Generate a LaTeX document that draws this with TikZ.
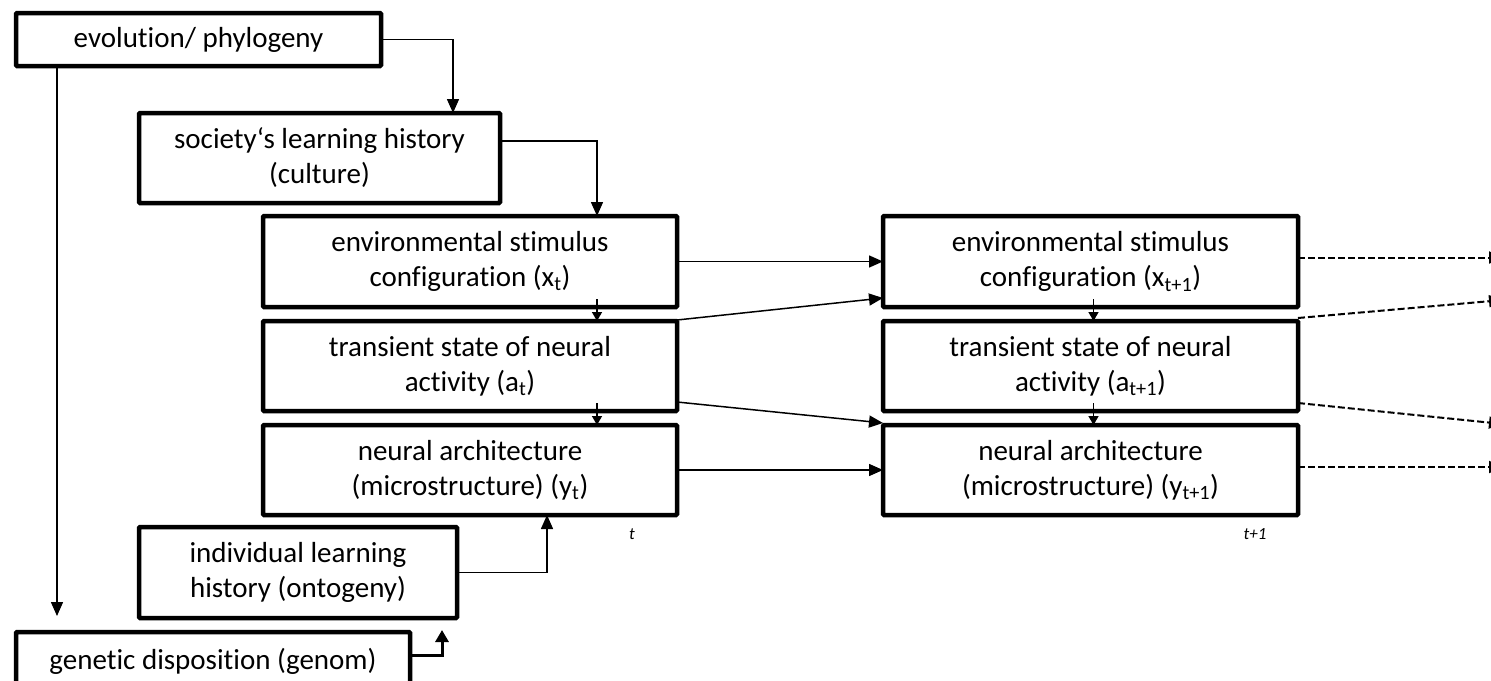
\documentclass[tikz,border=0pt]{standalone}
\usepackage{fontspec}
\setmainfont{Carlito}[Ligatures=NoCommon]
\usetikzlibrary{arrows.meta}
\begin{document}
\begin{tikzpicture}[x=1pt,y=-1pt,
  box/.style={draw, line width=4.5pt, rounded corners=1pt, align=center,
    inner sep=0pt, outer sep=0pt, font=\fontsize{29}{35}\selectfont},
  arr/.style={line width=1.5pt, -{Triangle[length=14pt,width=12pt]}},
  small/.style={line width=1.5pt, -{Triangle[length=9pt,width=10pt]}},
  thick arr/.style={line width=3pt, -{Triangle[length=12pt,width=13pt]}},
  dash arr/.style={line width=2pt, dash pattern=on 7pt off 3pt,
    -{Triangle[length=14pt,width=12pt]}},
  tlabel/.style={font=\fontsize{17}{20}\selectfont\itshape, inner sep=0pt}]
\useasboundingbox (0,0) rectangle (1491,680);

% upstream influences
\node[box, minimum width=365pt, minimum height=53pt] (evo) at (198.5,39.5) {evolution/ phylogeny};
\node[box, minimum width=361pt, minimum height=90pt] (soc) at (319.5,158) {society‘s learning history\\(culture)};

% time step t
\node[box, minimum width=414pt, minimum height=91pt] (env1) at (470,261.5) {environmental stimulus\\configuration (x\textsubscript{t})};
\node[box, minimum width=414pt, minimum height=90pt] (trs1) at (470,366) {transient state of neural\\activity (a\textsubscript{t})};
\node[box, minimum width=414pt, minimum height=90pt] (neu1) at (470,470) {neural architecture\\(microstructure) (y\textsubscript{t})};

% time step t+1
\node[box, minimum width=415pt, minimum height=91pt] (env2) at (1090.5,261.5) {environmental stimulus\\configuration (x\textsubscript{t+1})};
\node[box, minimum width=415pt, minimum height=90pt] (trs2) at (1090.5,366) {transient state of neural\\activity (a\textsubscript{t+1})};
\node[box, minimum width=415pt, minimum height=90pt] (neu2) at (1090.5,470) {neural architecture\\(microstructure) (y\textsubscript{t+1})};

% individual factors
\node[box, minimum width=318pt, minimum height=91pt] (ind) at (298,572.5) {individual learning\\history (ontogeny)};
\node[box, minimum width=394pt, minimum height=58pt] (gen) at (213,661) {genetic disposition (genom)};

\node[tlabel] (lt) at (632,534) {t};
\node[tlabel] (lt1) at (1255,534) {t+1};

% loose ends of the next step
\coordinate (n1) at (1503,257.5);
\coordinate (n2) at (1503,300);
\coordinate (n3) at (1503,424);
\coordinate (n4) at (1503,467);

% top-down cascade
\draw[arr] (evo.east) -| ([xshift=133.5pt]soc.north);
\draw[arr] ([yshift=17pt]soc.east) -| ([xshift=127pt]env1.north);
\draw[arr] ([xshift=-141.5pt]evo.south) -- ([xshift=41pt,yshift=16pt]gen.north west);

% within each step
\draw[small] ([xshift=127pt,yshift=8pt]env1.south) -- ([xshift=127pt]trs1.north);
\draw[small] ([xshift=127pt,yshift=8pt]trs1.south) -- ([xshift=127pt]neu1.north);
\draw[small] ([xshift=3pt,yshift=8pt]env2.south) -- ([xshift=3pt]trs2.north);
\draw[small] ([xshift=3pt,yshift=8pt]trs2.south) -- ([xshift=3pt]neu2.north);

% from t to t+1
\draw[arr] (env1.east) -- (env2.west);
\draw[arr] ([yshift=1pt]trs1.north east) -- ([yshift=-36.5pt]env2.west);
\draw[arr] ([yshift=9pt]trs1.south east) -- ([yshift=2pt]neu2.north west);
\draw[arr] (neu1.east) -- (neu2.west);

% onward to t+2
\draw[dash arr] ([yshift=4pt]env2.east) -- (n1);
\draw[dash arr] ([yshift=3pt]trs2.north east) -- (n2);
\draw[dash arr] ([yshift=8pt]trs2.south east) -- (n3);
\draw[dash arr] ([yshift=3pt]neu2.east) -- (n4);

% individual history and genes
\draw[arr] (ind.east) -| ([xshift=77pt]neu1.south);
\draw[thick arr] ([yshift=6pt]gen.east) -| ([xshift=144pt,yshift=-12pt]ind.south);
\end{tikzpicture}
\end{document}
